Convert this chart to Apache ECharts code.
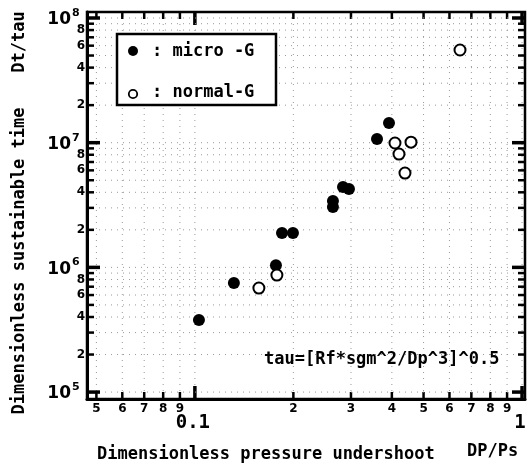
<!DOCTYPE html>
<html>
<head>
<meta charset="utf-8">
<script src="https://cdn.jsdelivr.net/npm/echarts@6/dist/echarts.min.js"></script>
<style>
  html, body { margin: 0; padding: 0; background: #fff; }
  #chart { width: 531px; height: 468px; }
</style>
</head>
<body>
<div id="chart"></div>
<script>
// Axis extents (log-log)
const X_MIN = 0.0468, X_MAX = 1.021;
const Y_MIN = 0.88e5, Y_MAX = 1.117e8;

// x axis ticks and their labels
const xTickValues = [0.05, 0.06, 0.07, 0.08, 0.09, 0.1, 0.2, 0.3, 0.4, 0.5, 0.6, 0.7, 0.8, 0.9, 1];
const xTickLabels = ['5', '6', '7', '8', '9', '0.1', '2', '3', '4', '5', '6', '7', '8', '9', '1'];
const xMajorTicks = [0.1, 1];

// y axis ticks: decades plus 2..9 within each decade
const yDecadeExponents = [5, 6, 7, 8];
const yMinorMultipliers = [2, 3, 4, 5, 6, 7, 8, 9];
const yMinorLabelled = [2, 4, 6, 8];

// Measured points [DP/Ps, Dt/tau]
const microG = [
  [0.1029, 3.78e5],
  [0.1316, 7.49e5],
  [0.1769, 1.04e6],
  [0.1846, 1.89e6],
  [0.1994, 1.89e6],
  [0.2642, 3.40e6],
  [0.2642, 3.05e6],
  [0.2836, 4.41e6],
  [0.2958, 4.25e6],
  [0.3603, 1.07e7],
  [0.3920, 1.44e7]
];
const normalG = [
  [0.1569, 6.83e5],
  [0.1781, 8.68e5],
  [0.4089, 9.94e6],
  [0.4577, 1.01e7],
  [0.4206, 8.11e6],
  [0.4387, 5.71e6],
  [0.6462, 5.54e7]
];

// Build y tick list from the decade/multiplier tables
const yTicks = [];
yDecadeExponents.forEach(function (e, k) {
  yTicks.push({ v: Math.pow(10, e), major: true, exp: String(e) });
  if (k < yDecadeExponents.length - 1) {
    yMinorMultipliers.forEach(function (m) {
      yTicks.push({ v: m * Math.pow(10, e), major: false, label: yMinorLabelled.indexOf(m) >= 0 ? String(m) : '' });
    });
  }
});

const MONO = '"DejaVu Sans Mono", monospace';
const SANS = '"DejaVu Sans", sans-serif';

function seg(x1, y1, x2, y2, w, dash) {
  return {
    type: 'line',
    shape: { x1: x1, y1: y1, x2: x2, y2: y2 },
    style: { stroke: dash ? '#999' : '#000', lineWidth: w, lineDash: dash || null }
  };
}
function label(text, x, y, font, align, valign) {
  return {
    type: 'text',
    style: { text: text, x: x, y: y, font: font, fill: '#000', textAlign: align, textVerticalAlign: valign }
  };
}

function renderXTick(params, api) {
  const i = params.dataIndex;
  const v = api.value(0);
  const px = api.coord([v, Y_MIN])[0];
  const cs = params.coordSys;
  const top = cs.y, bot = cs.y + cs.height;
  const major = xMajorTicks.indexOf(v) >= 0;
  const len = major ? 13 : 7;
  const w = major ? 3.5 : 2.5;
  const kids = [
    seg(px, top, px, bot, 1, [1, 5]),
    seg(px, bot, px, bot - len, w),
    seg(px, top, px, top + len, w)
  ];
  if (major) {
    kids.push(label(xTickLabels[i], px - 2, bot + 15, 'bold 19px ' + MONO, 'center', 'top'));
  } else {
    kids.push(label(xTickLabels[i], px, bot + 4, 'bold 12px ' + SANS, 'center', 'top'));
  }
  return { type: 'group', children: kids };
}

function renderYTick(params, api) {
  const t = yTicks[params.dataIndex];
  const py = api.coord([X_MIN, api.value(1)])[1];
  const cs = params.coordSys;
  const left = cs.x, right = cs.x + cs.width;
  const len = t.major ? 13 : 7;
  const w = t.major ? 3.5 : 2.5;
  const kids = [
    seg(left, py, right, py, 1, [1, 5]),
    seg(left, py, left + len, py, w),
    seg(right, py, right - len, py, w)
  ];
  if (t.major) {
    kids.push(label('10', left - 16, py + 2, 'bold 17px ' + SANS, 'right', 'middle'));
    kids.push(label(t.exp, left - 15, py - 5, 'bold 11px ' + SANS, 'left', 'middle'));
  } else if (t.label) {
    kids.push(label(t.label, left - 2, py, 'bold 12px ' + SANS, 'right', 'middle'));
  }
  return { type: 'group', children: kids };
}

const chart = echarts.init(document.getElementById('chart'), null, { renderer: 'canvas' });

chart.setOption({
  animation: false,
  backgroundColor: '#fff',
  grid: {
    left: 87, right: 6, top: 12, bottom: 69,
    show: true, borderColor: '#000', borderWidth: 2.5, backgroundColor: 'transparent'
  },
  xAxis: {
    type: 'log', logBase: 10, min: X_MIN, max: X_MAX,
    axisLine: { show: true, lineStyle: { color: '#000', width: 3 } },
    axisTick: { show: false }, axisLabel: { show: false }, splitLine: { show: false }
  },
  yAxis: {
    type: 'log', logBase: 10, min: Y_MIN, max: Y_MAX,
    axisLine: { show: true, lineStyle: { color: '#000', width: 3 } },
    axisTick: { show: false }, axisLabel: { show: false }, splitLine: { show: false }
  },
  series: [
    {
      type: 'custom', name: 'xTicks', silent: true, clip: false, z: 1,
      renderItem: renderXTick,
      data: xTickValues.map(function (v) { return [v, Y_MIN]; })
    },
    {
      type: 'custom', name: 'yTicks', silent: true, clip: false, z: 1,
      renderItem: renderYTick,
      data: yTicks.map(function (t) { return [X_MIN, t.v]; })
    },
    {
      type: 'scatter', name: 'micro-G', z: 3,
      symbol: 'circle', symbolSize: 12,
      itemStyle: { color: '#000', opacity: 1 },
      data: microG
    },
    {
      type: 'scatter', name: 'normal-G', z: 4,
      symbol: 'circle', symbolSize: 11,
      itemStyle: { color: '#fff', borderColor: '#000', borderWidth: 2, opacity: 1 },
      data: normalG
    }
  ],
  graphic: [
    // legend box
    {
      type: 'rect', z: 20,
      shape: { x: 117, y: 34, width: 159, height: 71 },
      style: { fill: '#fff', stroke: '#000', lineWidth: 2.5 }
    },
    { type: 'circle', z: 21, shape: { cx: 133, cy: 51, r: 5 }, style: { fill: '#000' } },
    { type: 'circle', z: 21, shape: { cx: 133, cy: 94, r: 4.2 }, style: { fill: '#fff', stroke: '#000', lineWidth: 1.8 } },
    { type: 'text', z: 21, x: 152, y: 52, style: { text: ': micro -G', font: 'bold 17px ' + MONO, fill: '#000', textAlign: 'left', textVerticalAlign: 'middle' } },
    { type: 'text', z: 21, x: 152, y: 93, style: { text: ': normal-G', font: 'bold 17px ' + MONO, fill: '#000', textAlign: 'left', textVerticalAlign: 'middle' } },
    // formula note
    { type: 'text', z: 21, x: 264, y: 360, style: { text: 'tau=[Rf*sgm^2/Dp^3]^0.5', font: 'bold 17px ' + MONO, fill: '#000', textAlign: 'left', textVerticalAlign: 'middle' } },
    // axis titles
    { type: 'text', x: 97, y: 455, style: { text: 'Dimensionless pressure undershoot', font: 'bold 17px ' + MONO, fill: '#000', textAlign: 'left', textVerticalAlign: 'middle' } },
    { type: 'text', x: 467, y: 452, style: { text: 'DP/Ps', font: 'bold 17px ' + MONO, fill: '#000', textAlign: 'left', textVerticalAlign: 'middle' } },
    { type: 'text', x: 20, y: 261, rotation: Math.PI / 2, style: { text: 'Dimensionless sustainable time', font: 'bold 17px ' + MONO, fill: '#000', textAlign: 'center', textVerticalAlign: 'middle' } },
    { type: 'text', x: 20, y: 42, rotation: Math.PI / 2, style: { text: 'Dt/tau', font: 'bold 17px ' + MONO, fill: '#000', textAlign: 'center', textVerticalAlign: 'middle' } }
  ]
});
</script>
</body>
</html>
